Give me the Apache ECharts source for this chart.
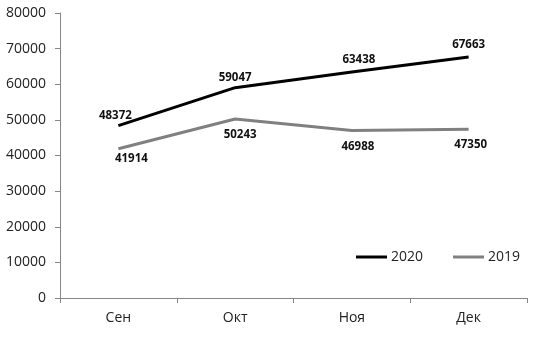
<!DOCTYPE html>
<html>
<head>
<meta charset="utf-8">
<script src="https://cdn.jsdelivr.net/npm/echarts@6/dist/echarts.min.js"></script>
<style>html,body{margin:0;padding:0;background:#fff}#c{width:550px;height:359px}</style>
</head>
<body>
<div id="c"></div>
<script>
var categories = ['Сен', 'Окт', 'Ноя', 'Дек'];
var values2020 = [48372, 59047, 63438, 67663];
var values2019 = [41914, 50243, 46988, 47350];
var yTicks = { min: 0, max: 80000, interval: 10000 };

var off2020 = [[-3, 1], [0, 1], [7, -1], [0, -1]];
var off2019 = [[13, -1], [5, 5], [6, 5], [2, 4]];

function mk(vals, offs) {
  return vals.map(function (v, i) {
    return { value: v, label: { offset: offs[i] } };
  });
}

var font = '"Open Sans", "Noto Sans", sans-serif';
var chart = echarts.init(document.getElementById('c'));
chart.setOption({
  animation: false,
  backgroundColor: '#fff',
  grid: { left: 60, right: 23, top: 13, bottom: 61 },
  legend: {
    left: 351, top: 245,
    icon: 'rect', itemWidth: 31, itemHeight: 3, itemGap: 30,
    textStyle: { fontFamily: font, fontSize: 14, color: '#222', padding: [0, 0, 0, -1] },
    data: ['2020', '2019']
  },
  xAxis: {
    type: 'category',
    data: categories,
    boundaryGap: true,
    axisLine: { lineStyle: { color: '#868686', width: 1 } },
    axisTick: { show: true, length: 5, lineStyle: { color: '#868686' } },
    axisLabel: { fontFamily: font, fontSize: 14, color: '#222', margin: 13 }
  },
  yAxis: {
    type: 'value',
    min: yTicks.min, max: yTicks.max, interval: yTicks.interval,
    splitLine: { show: false },
    axisLine: { show: true, lineStyle: { color: '#868686', width: 1 } },
    axisTick: { show: true, length: 5, lineStyle: { color: '#868686' } },
    axisLabel: { fontFamily: font, fontSize: 14, color: '#222', margin: 14, formatter: function (v) { return String(v); } }
  },
  series: [
    {
      name: '2020', type: 'line', data: mk(values2020, off2020),
      showSymbol: true, symbol: 'circle', symbolSize: 0,
      lineStyle: { color: '#000', width: 3 }, itemStyle: { color: '#000' },
      label: { show: true, position: 'top', fontFamily: font, fontSize: 11.5, fontWeight: 'bold', color: '#111' }
    },
    {
      name: '2019', type: 'line', data: mk(values2019, off2019),
      showSymbol: true, symbol: 'circle', symbolSize: 0,
      lineStyle: { color: '#808080', width: 3 }, itemStyle: { color: '#808080' },
      label: { show: true, position: 'bottom', fontFamily: font, fontSize: 11.5, fontWeight: 'bold', color: '#111' }
    }
  ]
});
</script>
</body>
</html>
